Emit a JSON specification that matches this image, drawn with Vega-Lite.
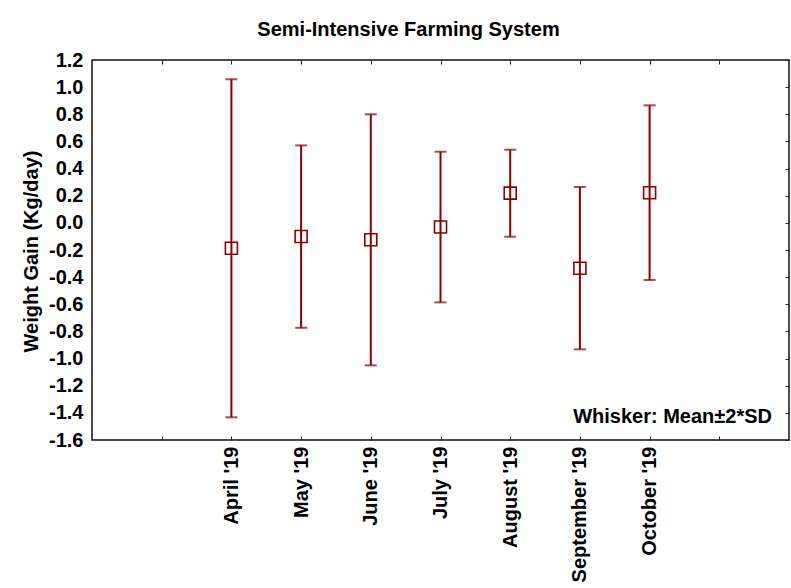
{
  "$schema": "https://vega.github.io/schema/vega-lite/v6.json",
  "width": 697,
  "height": 380,
  "autosize": "none",
  "padding": {"left": 92, "top": 60, "right": 2, "bottom": 148},
  "background": "white",
  "config": {
    "view": {"stroke": "#111111", "strokeWidth": 1.5},
    "font": "Liberation Sans",
    "axis": {"grid": false, "domain": false, "labelFont": "Liberation Sans", "labelFontWeight": "bold", "labelColor": "#000000", "tickColor": "#222222", "tickWidth": 1, "labelOverlap": false, "labelBound": false}
  },
  "title": {"text": "Semi-Intensive Farming System", "font": "Liberation Sans", "fontWeight": "bold", "fontSize": 20, "color": "#000000", "anchor": "middle", "dx": -32, "dy": 23, "baseline": "alphabetic", "offset": 17},
  "data": {"values": [
    {"month": "April '19", "mean": -0.187, "lo": -1.433, "hi": 1.058},
    {"month": "May '19", "mean": -0.101, "lo": -0.773, "hi": 0.571},
    {"month": "June '19", "mean": -0.125, "lo": -1.05, "hi": 0.8},
    {"month": "July '19", "mean": -0.031, "lo": -0.586, "hi": 0.524},
    {"month": "August '19", "mean": 0.219, "lo": -0.102, "hi": 0.539},
    {"month": "September '19", "mean": -0.334, "lo": -0.932, "hi": 0.264},
    {"month": "October '19", "mean": 0.222, "lo": -0.421, "hi": 0.866}
  ]},
  "layer": [
    {
      "layer": [
        {
          "mark": {"type": "rule", "color": "#8b0000", "strokeWidth": 2},
          "encoding": {
            "x": {"field": "month", "type": "nominal",
              "scale": {"type": "point", "domain": ["_p1", "April '19", "May '19", "June '19", "July '19", "August '19", "September '19", "October '19", "_p2"], "padding": 1},
              "axis": {"orient": "bottom", "title": null, "labelAngle": -90, "labelAlign": "right", "labelBaseline": "middle", "labelFontSize": 20, "labelPadding": 10, "tickSize": -4, "labelOverlap": false, "labelExpr": "slice(datum.label, 0, 1) == '_' ? '' : datum.label"}},
            "y": {"field": "lo", "type": "quantitative",
              "scale": {"domain": [-1.6, 1.2], "nice": false, "zero": false},
              "axis": {"orient": "left", "title": "Weight Gain (Kg/day)", "titleFont": "Liberation Sans", "titleFontWeight": "bold", "titleFontSize": 20, "titleColor": "#000000", "titleAngle": -90, "titleAlign": "center", "titleBaseline": "alphabetic", "titleX": -55, "titleY": 191, "values": [-1.6, -1.4, -1.2, -1.0, -0.8, -0.6, -0.4, -0.2, 0, 0.2, 0.4, 0.6, 0.8, 1.0, 1.2], "tickSize": 0, "labelPadding": 9, "labelFontSize": 20, "labelOverlap": false, "labelSeparation": 0, "labelExpr": "replace(format(datum.value, '.1f'), '\u2212', '-')"}},
            "y2": {"field": "hi"}
          }
        },
        {
          "mark": {"type": "tick", "color": "#8b0000", "size": 12, "thickness": 2},
          "encoding": {"x": {"field": "month", "type": "nominal"}, "y": {"field": "lo", "type": "quantitative",
            "axis": {"orient": "left", "title": "Weight Gain (Kg/day)", "titleFont": "Liberation Sans", "titleFontWeight": "bold", "titleFontSize": 20, "titleColor": "#000000", "titleAngle": -90, "titleAlign": "center", "titleBaseline": "alphabetic", "titleX": -55, "titleY": 191, "values": [-1.6, -1.4, -1.2, -1.0, -0.8, -0.6, -0.4, -0.2, 0, 0.2, 0.4, 0.6, 0.8, 1.0, 1.2], "tickSize": 0, "labelPadding": 9, "labelFontSize": 20, "labelOverlap": false, "labelSeparation": 0, "labelExpr": "replace(format(datum.value, '.1f'), '\u2212', '-')"}}}
        },
        {
          "mark": {"type": "tick", "color": "#8b0000", "size": 12, "thickness": 2},
          "encoding": {"x": {"field": "month", "type": "nominal"}, "y": {"field": "hi", "type": "quantitative",
            "axis": {"orient": "left", "title": "Weight Gain (Kg/day)", "titleFont": "Liberation Sans", "titleFontWeight": "bold", "titleFontSize": 20, "titleColor": "#000000", "titleAngle": -90, "titleAlign": "center", "titleBaseline": "alphabetic", "titleX": -55, "titleY": 191, "values": [-1.6, -1.4, -1.2, -1.0, -0.8, -0.6, -0.4, -0.2, 0, 0.2, 0.4, 0.6, 0.8, 1.0, 1.2], "tickSize": 0, "labelPadding": 9, "labelFontSize": 20, "labelOverlap": false, "labelSeparation": 0, "labelExpr": "replace(format(datum.value, '.1f'), '\u2212', '-')"}}}
        },
        {
          "mark": {"type": "point", "shape": "square", "filled": false, "size": 144, "color": "#8b0000", "strokeWidth": 1.6, "opacity": 1},
          "encoding": {"x": {"field": "month", "type": "nominal"}, "y": {"field": "mean", "type": "quantitative",
            "axis": {"orient": "left", "title": "Weight Gain (Kg/day)", "titleFont": "Liberation Sans", "titleFontWeight": "bold", "titleFontSize": 20, "titleColor": "#000000", "titleAngle": -90, "titleAlign": "center", "titleBaseline": "alphabetic", "titleX": -55, "titleY": 191, "values": [-1.6, -1.4, -1.2, -1.0, -0.8, -0.6, -0.4, -0.2, 0, 0.2, 0.4, 0.6, 0.8, 1.0, 1.2], "tickSize": 0, "labelPadding": 9, "labelFontSize": 20, "labelOverlap": false, "labelSeparation": 0, "labelExpr": "replace(format(datum.value, '.1f'), '\u2212', '-')"}}}
        },
        {
          "data": {"values": [{"note": "Whisker: Mean±2*SD"}]},
          "mark": {"type": "text", "align": "right", "baseline": "middle", "font": "Liberation Sans", "fontWeight": "bold", "fontSize": 20, "color": "#000000", "dx": -17},
          "encoding": {"text": {"field": "note"}, "x": {"value": "width"}, "y": {"datum": -1.43, "type": "quantitative",
            "axis": {"orient": "left", "title": "Weight Gain (Kg/day)", "titleFont": "Liberation Sans", "titleFontWeight": "bold", "titleFontSize": 20, "titleColor": "#000000", "titleAngle": -90, "titleAlign": "center", "titleBaseline": "alphabetic", "titleX": -55, "titleY": 191, "values": [-1.6, -1.4, -1.2, -1.0, -0.8, -0.6, -0.4, -0.2, 0, 0.2, 0.4, 0.6, 0.8, 1.0, 1.2], "tickSize": 0, "labelPadding": 9, "labelFontSize": 20, "labelOverlap": false, "labelSeparation": 0, "labelExpr": "replace(format(datum.value, '.1f'), '\u2212', '-')"}}}
        }
      ]
    },
    {
      "mark": {"type": "point", "opacity": 0},
      "encoding": {
        "x": {"field": "month", "type": "nominal", "axis": {"orient": "top", "title": null, "labels": false, "tickSize": -4}},
        "y": {"field": "mean", "type": "quantitative", "axis": {"orient": "right", "title": null, "labels": false, "tickSize": -4, "values": [-1.6, -1.4, -1.2, -1.0, -0.8, -0.6, -0.4, -0.2, 0, 0.2, 0.4, 0.6, 0.8, 1.0, 1.2]}}
      }
    }
  ],
  "resolve": {"axis": {"x": "independent", "y": "independent"}}
}
